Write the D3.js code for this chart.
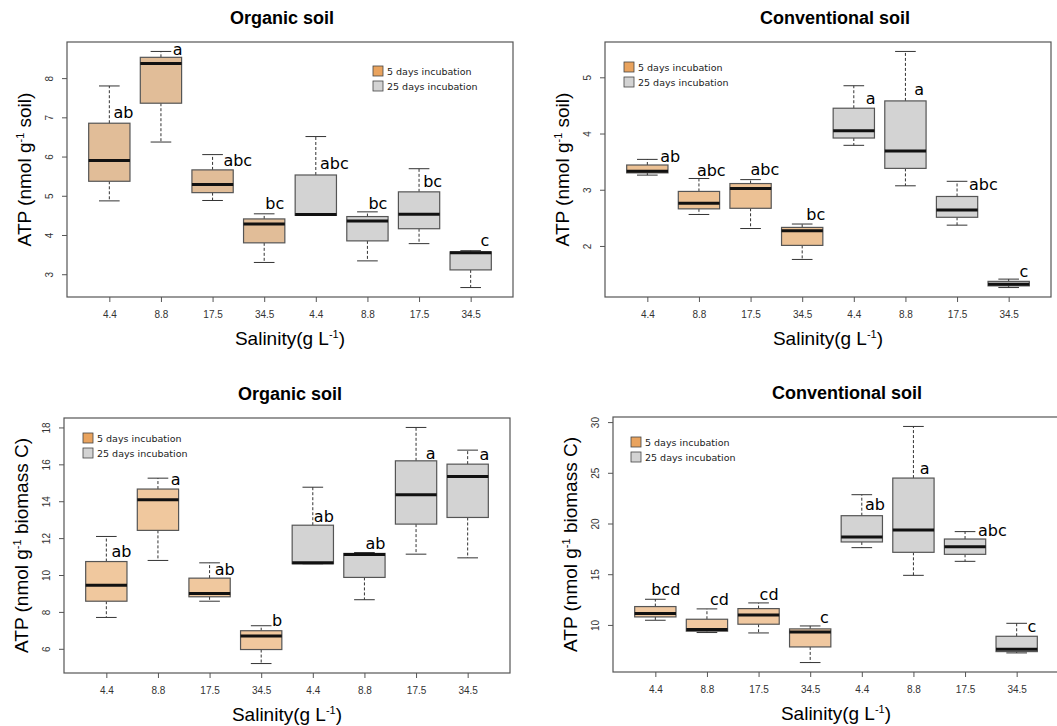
<!DOCTYPE html>
<html>
<head>
<meta charset="utf-8">
<style>
  body { margin: 0; background: white; }
  svg { display: block; }
  .tick text { font-family: "Liberation Sans", Arial, sans-serif; font-size: 10px; fill: #333; }
  .tick line { stroke: #555; }
  .ttl { font-family: "Liberation Sans", Arial, sans-serif; font-weight: bold; font-size: 18px; }
  .lab { font-family: "Liberation Sans", Arial, sans-serif; font-size: 19px; }
  .letter { font-family: "DejaVu Sans", sans-serif; font-size: 16px; }
  .leg { font-family: "DejaVu Sans", sans-serif; font-size: 9.5px; fill: #222; }
</style>
</head>
<body>
<svg width="1057" height="726"></svg>
<script src="https://d3js.org/d3.v7.min.js"></script>
<script>

// x categories (salinity, g/L); first four = 5 days, last four = 25 days
var salinity = ["4.4", "8.8", "17.5", "34.5", "4.4", "8.8", "17.5", "34.5"];
var incubation = ["5 days incubation", "25 days incubation"];
var incubationOf = [0, 0, 0, 0, 1, 1, 1, 1];

// box stats: [lower whisker, Q1, median, Q3, upper whisker]
var organicSoil = [
  [4.87, 5.37, 5.90, 6.85, 7.80],
  [6.37, 7.36, 8.37, 8.53, 8.68],
  [4.88, 5.08, 5.29, 5.66, 6.05],
  [3.30, 3.80, 4.28, 4.41, 4.54],
  [4.50, 4.50, 4.52, 5.53, 6.51],
  [3.34, 3.85, 4.36, 4.47, 4.59],
  [3.78, 4.16, 4.53, 5.10, 5.69],
  [2.66, 3.11, 3.55, 3.57, 3.60]
];
var conventionalSoil = [
  [3.26, 3.30, 3.33, 3.44, 3.54],
  [2.56, 2.66, 2.76, 2.97, 3.20],
  [2.31, 2.67, 3.02, 3.11, 3.18],
  [1.76, 2.01, 2.27, 2.33, 2.39],
  [3.79, 3.92, 4.05, 4.45, 4.85],
  [3.07, 3.38, 3.69, 4.58, 5.46],
  [2.37, 2.51, 2.64, 2.88, 3.15],
  [1.26, 1.29, 1.32, 1.37, 1.41]
];
var organicBiomass = [
  [7.70, 8.58, 9.45, 10.73, 12.09],
  [10.79, 12.42, 14.08, 14.66, 15.25],
  [8.58, 8.82, 9.00, 9.83, 10.66],
  [5.20, 5.96, 6.70, 6.98, 7.25],
  [10.61, 10.61, 10.66, 12.70, 14.76],
  [8.66, 9.87, 11.11, 11.17, 11.22],
  [11.13, 12.76, 14.35, 16.19, 18.00],
  [10.93, 13.12, 15.34, 16.01, 16.77]
];
var conventionalBiomass = [
  [10.46, 10.79, 11.12, 11.81, 12.53],
  [9.25, 9.38, 9.54, 10.56, 11.58],
  [9.21, 10.07, 10.99, 11.61, 12.17],
  [6.29, 7.83, 9.31, 9.61, 9.90],
  [17.62, 18.18, 18.67, 20.77, 22.84],
  [14.89, 17.16, 19.36, 24.48, 29.57],
  [16.27, 16.96, 17.72, 18.47, 19.20],
  [7.24, 7.37, 7.60, 8.88, 10.16]
];

// significance letters, with where they sit (y in data units, x shift in box units)
var organicSoilLetters = ["ab", "a", "abc", "bc", "abc", "bc", "bc", "c"];
var organicSoilLetterY = [7.13, 8.74, 5.90, 4.81, 5.83, 4.81, 5.36, 3.87];
var organicSoilLetterDx = [0.08, 0.23, 0.21, 0.02, 0.08, 0.02, 0.08, 0.19];

var conventionalSoilLetters = ["ab", "abc", "abc", "bc", "a", "a", "abc", "c"];
var conventionalSoilLetterY = [3.59, 3.34, 3.37, 2.57, 4.63, 4.78, 3.09, 1.55];
var conventionalSoilLetterDx = [0.25, -0.04, 0, 0.08, 0.23, 0.17, 0.23, 0.21];

var organicBiomassLetters = ["ab", "a", "ab", "b", "ab", "ab", "a", "a"];
var organicBiomassLetterY = [11.26, 15.16, 10.32, 7.52, 13.17, 11.71, 16.59, 16.52];
var organicBiomassLetterDx = [0.1, 0.25, 0.1, 0.21, 0.02, 0.02, 0.19, 0.23];

var conventionalBiomassLetters = ["bcd", "cd", "cd", "c", "ab", "a", "abc", "c"];
var conventionalBiomassLetterY = [13.51, 12.53, 13.02, 10.72, 21.89, 25.47, 19.33, 9.90];
var conventionalBiomassLetterDx = [-0.08, 0.06, 0.02, 0.19, 0.06, 0.12, 0.25, 0.21];

var organicSoilTicks = [3, 4, 5, 6, 7, 8];
var conventionalSoilTicks = [2, 3, 4, 5];
var organicBiomassTicks = [6, 8, 10, 12, 14, 16, 18];
var conventionalBiomassTicks = [10, 15, 20, 25, 30];

var W = 446, H = 255;

var panels = [
  { title: "Organic soil", unit: " soil)", stats: organicSoil, letters: organicSoilLetters,
    ly: organicSoilLetterY, ldx: organicSoilLetterDx, ticks: organicSoilTicks,
    left: 67, top: 42, titleDx: -8, fill: "#e1bd98", legX: 306, legY: 24 },
  { title: "Conventional soil", unit: " soil)", stats: conventionalSoil, letters: conventionalSoilLetters,
    ly: conventionalSoilLetterY, ldx: conventionalSoilLetterDx, ticks: conventionalSoilTicks,
    left: 605, top: 42, titleDx: 7, fill: "#ecc194", legX: 19, legY: 20 },
  { title: "Organic soil", unit: " biomass C)", stats: organicBiomass, letters: organicBiomassLetters,
    ly: organicBiomassLetterY, ldx: organicBiomassLetterDx, ticks: organicBiomassTicks,
    left: 64, top: 418, titleDx: 3, fill: "#f0c89e", legX: 19, legY: 15 },
  { title: "Conventional soil", unit: " biomass C)", stats: conventionalBiomass, letters: conventionalBiomassLetters,
    ly: conventionalBiomassLetterY, ldx: conventionalBiomassLetterDx, ticks: conventionalBiomassTicks,
    left: 613, top: 417, titleDx: 11, fill: "#f0c8a0", legX: 18, legY: 20 }
];

var svg = d3.select("svg");
svg.append("rect").attr("width", 1057).attr("height", 726).attr("fill", "white");

panels.forEach(drawPanel);

function drawPanel(p) {
  var g = svg.append("g").attr("transform", "translate(" + p.left + "," + p.top + ")");

  // R style: boxes at 1..n, xlim 0.5..n+0.5 stretched by 4%
  var n = p.stats.length;
  var x = d3.scaleLinear().domain([0.5 - n * 0.04, n + 0.5 + n * 0.04]).range([0, W]);
  var lo = d3.min(p.stats, function(d) { return d[0]; }),
      hi = d3.max(p.stats, function(d) { return d[4]; }),
      pad = (hi - lo) * 0.04;
  var y = d3.scaleLinear().domain([lo - pad, hi + pad]).range([H, 0]);

  var xAxis = g.append("g").attr("transform", "translate(0," + H + ")")
    .call(d3.axisBottom(x).tickValues(d3.range(1, n + 1))
      .tickFormat(function(i) { return salinity[i - 1]; })
      .tickSize(5).tickPadding(9));
  xAxis.select(".domain").remove();

  var yAxis = g.append("g")
    .call(d3.axisLeft(y).tickValues(p.ticks).tickFormat(d3.format("d")).tickSize(5));
  yAxis.select(".domain").remove();
  yAxis.selectAll(".tick text")
    .attr("x", 0).attr("y", 0).attr("dy", "0.35em")
    .attr("transform", "translate(-18,0) rotate(-90)")
    .style("text-anchor", "middle");

  var bw = x(1.4) - x(0.6);

  var box = g.selectAll(".box").data(p.stats).enter().append("g").attr("class", "box");

  // dashed whiskers
  box.append("line")
    .attr("x1", function(d, i) { return x(i + 1); }).attr("x2", function(d, i) { return x(i + 1); })
    .attr("y1", function(d) { return y(d[3]); }).attr("y2", function(d) { return y(d[4]); })
    .attr("stroke", "#333").attr("stroke-dasharray", "3,2");
  box.append("line")
    .attr("x1", function(d, i) { return x(i + 1); }).attr("x2", function(d, i) { return x(i + 1); })
    .attr("y1", function(d) { return y(d[1]); }).attr("y2", function(d) { return y(d[0]); })
    .attr("stroke", "#333").attr("stroke-dasharray", "3,2");
  // caps
  [0, 4].forEach(function(k) {
    box.append("line")
      .attr("x1", function(d, i) { return x(i + 1) - bw / 4; })
      .attr("x2", function(d, i) { return x(i + 1) + bw / 4; })
      .attr("y1", function(d) { return y(d[k]); }).attr("y2", function(d) { return y(d[k]); })
      .attr("stroke", "#333");
  });

  box.append("rect")
    .attr("x", function(d, i) { return x(i + 1) - bw / 2; })
    .attr("width", bw)
    .attr("y", function(d) { return y(d[3]); })
    .attr("height", function(d) { return Math.max(1, y(d[1]) - y(d[3])); })
    .attr("fill", function(d, i) { return incubationOf[i] ? "#d3d3d3" : p.fill; })
    .attr("stroke", "#555").attr("stroke-width", 1.2);

  box.append("line")
    .attr("x1", function(d, i) { return x(i + 1) - bw / 2; })
    .attr("x2", function(d, i) { return x(i + 1) + bw / 2; })
    .attr("y1", function(d) { return y(d[2]); }).attr("y2", function(d) { return y(d[2]); })
    .attr("stroke", "#111").attr("stroke-width", 3);

  box.append("text").attr("class", "letter")
    .attr("x", function(d, i) { return x(i + 1 + p.ldx[i]); })
    .attr("y", function(d, i) { return y(p.ly[i]); })
    .attr("dy", "0.35em")
    .text(function(d, i) { return p.letters[i]; });

  // frame
  g.append("rect").attr("width", W).attr("height", H)
    .attr("fill", "none").attr("stroke", "#555").attr("stroke-width", 1.2);

  // legend
  var leg = g.selectAll(".legend").data(incubation).enter().append("g")
    .attr("transform", function(d, i) { return "translate(" + p.legX + "," + (p.legY + i * 15) + ")"; });
  leg.append("rect").attr("width", 10).attr("height", 10)
    .attr("fill", function(d, i) { return i ? "#d3d3d3" : "#e9a35e"; })
    .attr("stroke", "#444").attr("stroke-width", 0.8);
  leg.append("text").attr("class", "leg").attr("x", 14).attr("y", 9).text(function(d) { return d; });

  // titles
  g.append("text").attr("class", "ttl")
    .attr("x", W / 2 + p.titleDx).attr("y", -18)
    .attr("text-anchor", "middle").text(p.title);

  var xl = g.append("text").attr("class", "lab")
    .attr("x", W / 2).attr("y", H + 48).attr("text-anchor", "middle");
  xl.append("tspan").text("Salinity(g L");
  xl.append("tspan").attr("dy", -7).style("font-size", "11px").text("-1");
  xl.append("tspan").attr("dy", 7).text(")");

  var yl = g.append("text").attr("class", "lab")
    .attr("transform", "translate(-36," + (H / 2) + ") rotate(-90)")
    .attr("text-anchor", "middle");
  yl.append("tspan").text("ATP (nmol g");
  yl.append("tspan").attr("dy", -7).style("font-size", "11px").text("-1");
  yl.append("tspan").attr("dy", 7).text(p.unit);
}

</script>
</body>
</html>
